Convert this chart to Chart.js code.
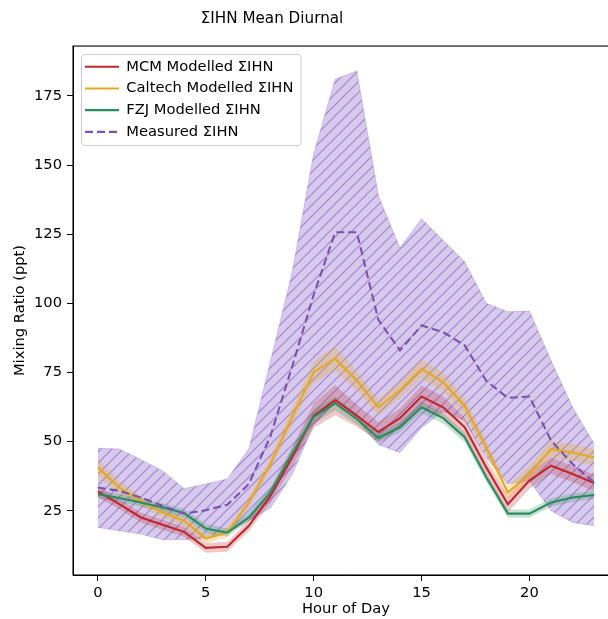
<!DOCTYPE html>
<html>
<head>
<meta charset="utf-8">
<script src="https://cdn.jsdelivr.net/npm/chart.js@4.4.0/dist/chart.umd.min.js"></script>
<style>
  html, body { margin: 0; padding: 0; background: #fff; overflow: hidden; }
  #wrap { width: 619px; height: 619px; }
</style>
</head>
<body>
<div id="wrap"><canvas id="c" width="619" height="619"></canvas></div>
<script>
const hours = [0,1,2,3,4,5,6,7,8,9,10,11,12,13,14,15,16,17,18,19,20,21,22,23];
const yTicks = [25, 50, 75, 100, 125, 150, 175];
const xTicks = [0, 5, 10, 15, 20];

const measured = [33.4, 32.2, 29.8, 26.8, 24.0, 25.2, 27.2, 34.7, 52, 77, 103, 125.7, 125.7, 94, 83, 92, 89.6, 84.8, 72, 65.8, 66.3, 50.4, 41.9, 35.3];
const measuredHigh = [47.6, 47.3, 43.5, 39.5, 33, 34.7, 36.5, 47.4, 79, 111, 154, 181, 184, 139, 120, 130.6, 122.8, 115, 100, 97, 97.2, 79.3, 62.4, 49.2];
const measuredLow = [19, 17.8, 16.6, 14.5, 14.6, 15, 17, 21.5, 26, 38, 56, 64, 58, 49, 46, 55, 61, 57.6, 44.3, 34.7, 35.9, 25, 20.8, 19.6];

const mcm = [32, 27.4, 22.6, 20, 17.4, 11.6, 12, 19.6, 30.4, 44.3, 59.4, 65, 59.4, 53.5, 58.5, 66.3, 62.4, 55.2, 40.7, 27.4, 35.9, 41.3, 38.3, 35];
const mcmLow = [30, 25.6, 20.8, 18.2, 15.6, 9.8, 10.2, 17.6, 27.9, 40.8, 54.9, 59.5, 55.4, 50, 55, 62.3, 58.4, 51.7, 37.7, 24.4, 32.9, 38.3, 35.3, 32];
const mcmHigh = [34, 29.2, 24.4, 21.8, 19.2, 13.4, 13.8, 21.6, 32.9, 47.8, 63.9, 70.5, 63.4, 57, 62, 70.3, 66.4, 58.7, 43.7, 30.4, 38.9, 44.3, 41.3, 38];

const caltech = [40.7, 33.4, 28.6, 24.4, 21.4, 15, 17.1, 28, 41.9, 58.8, 75.1, 80, 72.1, 62.4, 68.5, 76.3, 71.5, 63, 47.9, 31.6, 38.3, 47.3, 46.1, 44.3];
const caltechLow = [37.7, 30.9, 26.8, 22.6, 19.6, 13.2, 15.3, 26.2, 39.4, 55.8, 71.1, 75.5, 68.6, 59.4, 65.5, 72.8, 68, 60, 45.4, 29.1, 35.3, 44.3, 43.1, 41.3];
const caltechHigh = [43.7, 35.9, 30.4, 26.2, 23.2, 16.8, 18.9, 29.8, 44.4, 61.8, 79.1, 84.5, 75.6, 65.4, 71.5, 79.8, 75, 66, 50.4, 34.1, 41.3, 50.3, 49.1, 47.3];

const fzj = [31, 29.6, 28, 26.2, 24.2, 18.6, 17.1, 22.6, 31.6, 45.5, 59, 63.8, 58.2, 51.3, 55.2, 62.4, 58.5, 51.6, 37.1, 24, 24, 28, 29.8, 30.7];
const fzjLow = [29.5, 28.1, 26.5, 24.7, 22.7, 17.1, 15.6, 21.1, 29.8, 43.3, 56.5, 61.3, 56.2, 49.6, 53.4, 60.4, 56.5, 49.8, 35.4, 22.5, 22.5, 26.5, 28.3, 29.2];
const fzjHigh = [32.5, 31.1, 29.5, 27.7, 25.7, 20.1, 18.6, 24.1, 33.4, 47.7, 61.5, 66.3, 60.2, 53, 57, 64.4, 60.5, 53.4, 38.8, 25.5, 25.5, 29.5, 31.3, 32.2];

const FONT = 'DejaVu Sans';
const FS = 14.7;
const C_MCM = '#c0272d';
const C_CAL = '#e5a823';
const C_FZJ = '#2a8c5c';
const C_MEAS = '#7b52ae';

function pts(arr) { return hours.map((h, i) => ({ x: h, y: arr[i] })); }

// hatch pattern for measured band
function makeHatch() {
  const s = 11;
  const cv = document.createElement('canvas');
  cv.width = s; cv.height = s;
  const g = cv.getContext('2d');
  g.fillStyle = 'rgba(126,87,194,0.32)';
  g.fillRect(0, 0, s, s);
  g.strokeStyle = 'rgba(126,87,194,0.62)';
  g.lineWidth = 1.1;
  g.beginPath();
  g.moveTo(0, s); g.lineTo(s, 0);
  g.moveTo(-1, 1); g.lineTo(1, -1);
  g.moveTo(s - 1, s + 1); g.lineTo(s + 1, s - 1);
  g.stroke();
  return g.createPattern(cv, 'repeat');
}
const hatch = makeHatch();

function band(arr, color, fillTo, order, bw) {
  return {
    label: '_band', data: pts(arr), borderColor: color, borderWidth: bw || 0,
    backgroundColor: fillTo === false ? 'transparent' : fillTo.bg,
    fill: fillTo === false ? false : '-1', pointRadius: 0, tension: 0, order: order
  };
}

const datasets = [
  band(measuredLow, 'rgba(126,87,194,0.35)', false, 10, 0.8),
  band(measuredHigh, 'rgba(126,87,194,0.35)', { bg: hatch }, 10, 0.8),
  band(mcmLow, 'rgba(0,0,0,0)', false, 7),
  band(mcmHigh, 'rgba(0,0,0,0)', { bg: 'rgba(192,39,45,0.25)' }, 7),
  band(caltechLow, 'rgba(0,0,0,0)', false, 6),
  band(caltechHigh, 'rgba(0,0,0,0)', { bg: 'rgba(229,168,35,0.28)' }, 6),
  band(fzjLow, 'rgba(0,0,0,0)', false, 5),
  band(fzjHigh, 'rgba(0,0,0,0)', { bg: 'rgba(42,140,92,0.25)' }, 5),
  { label: 'MCM Modelled ΣIHN', data: pts(mcm), borderColor: C_MCM, backgroundColor: C_MCM, borderWidth: 2.1, pointRadius: 0, fill: false, tension: 0, order: 3 },
  { label: 'Caltech Modelled ΣIHN', data: pts(caltech), borderColor: C_CAL, backgroundColor: C_CAL, borderWidth: 2.1, pointRadius: 0, fill: false, tension: 0, order: 2 },
  { label: 'FZJ Modelled ΣIHN', data: pts(fzj), borderColor: C_FZJ, backgroundColor: C_FZJ, borderWidth: 2.1, pointRadius: 0, fill: false, tension: 0, order: 1 },
  { label: 'Measured ΣIHN', data: pts(measured), borderColor: C_MEAS, backgroundColor: C_MEAS, borderWidth: 2.1, borderDash: [8, 4], pointRadius: 0, fill: false, tension: 0, order: 0 }
];

const framePlugin = {
  id: 'frame',
  afterLayout(chart) {
    const lg = chart.legend;
    if (lg) { lg.left = 78; lg.top = 52.4; }
    const tb = chart.titleBlock;
    if (tb) { tb.left = 0; tb.right = 544; }
  },
  beforeDraw(chart) {
    const ctx = chart.ctx;
    ctx.save();
    ctx.fillStyle = 'rgba(255,255,255,0.8)';
    ctx.strokeStyle = '#cccccc';
    ctx.lineWidth = 1;
    ctx.beginPath();
    ctx.roundRect(81.5, 54.5, 219.5, 91, 3);
    ctx.fill();
    ctx.stroke();
    ctx.restore();
  },
  afterDraw(chart) {
    const a = chart.chartArea;
    const ctx = chart.ctx;
    ctx.save();
    ctx.strokeStyle = '#000';
    ctx.lineWidth = 1.1;
    ctx.strokeRect(a.left, a.top, a.right - a.left, a.bottom - a.top);
    ctx.restore();
  }
};

new Chart(document.getElementById('c'), {
  type: 'line',
  data: { datasets },
  options: {
    responsive: false,
    animation: false,
    layout: { padding: 0 },
    plugins: {
      title: {
        display: true, text: 'ΣIHN Mean Diurnal', color: '#000',
        font: { family: FONT, size: 15.2, weight: 'normal' },
        padding: { top: 10, bottom: 17.8 }
      },
      legend: {
        display: true, position: 'chartArea', align: 'start',
        labels: {
          font: { family: FONT, size: FS }, color: '#000',
          usePointStyle: true, pointStyle: 'line', pointStyleWidth: 34, boxWidth: 34,
          padding: 7,
          filter: (item) => item.text !== '_band',
          sort: (a, b) => a.datasetIndex - b.datasetIndex,
          generateLabels: (chart) => Chart.defaults.plugins.legend.labels.generateLabels(chart).map((it) => {
            const ds = chart.data.datasets[it.datasetIndex];
            it.lineDash = ds.borderDash || [];
            it.strokeStyle = ds.borderColor;
            it.lineWidth = ds.borderWidth;
            return it;
          })
        }
      },
      tooltip: { enabled: false }
    },
    scales: {
      x: {
        type: 'linear', min: -1.15, max: 24.15,
        afterFit: (s) => { s.height = 44; },
        afterBuildTicks: (s) => { s.ticks = xTicks.map(v => ({ value: v })); },
        ticks: { color: '#000', font: { family: FONT, size: FS }, padding: 3, includeBounds: false },
        grid: { display: true, drawOnChartArea: false, drawTicks: true, tickLength: 6, tickColor: '#000', tickWidth: 1 },
        border: { display: true, color: '#000', width: 1 },
        title: { display: true, text: 'Hour of Day', color: '#000', font: { family: FONT, size: FS }, padding: { top: 0, bottom: 1 } }
      },
      y: {
        type: 'linear', min: 1.8, max: 193,
        afterFit: (s) => { s.width = 73; },
        afterBuildTicks: (s) => { s.ticks = yTicks.map(v => ({ value: v })); },
        ticks: { color: '#000', font: { family: FONT, size: FS }, padding: 5, includeBounds: false },
        grid: { display: true, drawOnChartArea: false, drawTicks: true, tickLength: 6, tickColor: '#000', tickWidth: 1 },
        border: { display: true, color: '#000', width: 1 },
        title: { display: true, text: 'Mixing Ratio (ppt)', color: '#000', font: { family: FONT, size: FS }, padding: { top: 11, bottom: 0 } }
      }
    }
  },
  plugins: [framePlugin]
});
</script>
</body>
</html>
